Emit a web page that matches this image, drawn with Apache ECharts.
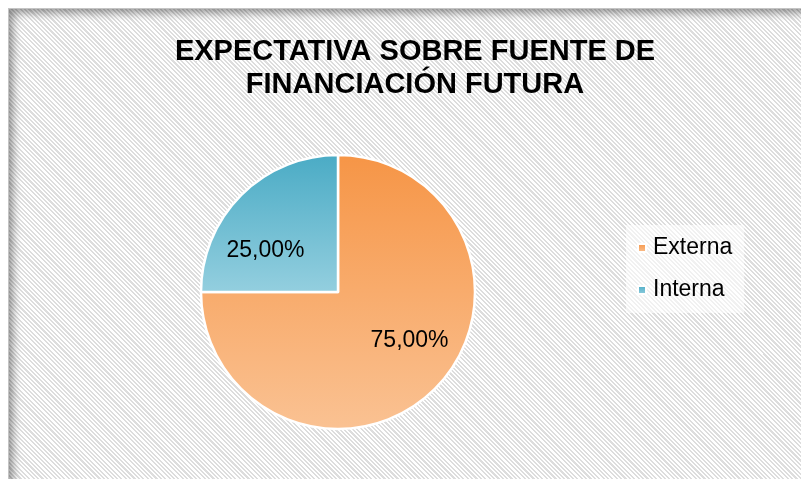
<!DOCTYPE html>
<html>
<head>
<meta charset="utf-8">
<script src="https://cdn.jsdelivr.net/npm/echarts@6/dist/echarts.min.js"></script>
<style>
  html, body {
    margin: 0;
    padding: 0;
    background: #fff;
  }
  .wrap {
    position: relative;
    width: 801px;
    height: 479px;
    overflow: hidden;
  }
  .frame {
    position: absolute;
    left: 8px;
    top: 8px;
    width: 800px;
    height: 470px;
    border: 1px solid #c4c4c4;
    background: repeating-linear-gradient(45deg, #ffffff 0, #ffffff 1.55px, #dddddd 1.55px, #dddddd 3.1px);
    box-shadow: inset 7px 7px 9px -3px rgba(0, 0, 0, 0.4);
  }
  #chart {
    position: absolute;
    left: 0;
    top: 0;
    width: 801px;
    height: 479px;
  }
</style>
</head>
<body>
<div class="wrap">
  <div class="frame"></div>
  <div id="chart"></div>
</div>
<script>
const titleLines = ['EXPECTATIVA SOBRE FUENTE DE', 'FINANCIACIÓN FUTURA']
const categories = ['Externa', 'Interna']
const values = [75, 25]

const colors = [
  ['#f69546', '#fac293'],
  ['#4aabc5', '#94cfdf']
]
const labelOffsets = [[21, -2], [-22, 9]]

const chart = echarts.init(document.getElementById('chart'))

const option = {
  backgroundColor: 'transparent',
  textStyle: {
    fontFamily: 'Liberation Sans, Arial, sans-serif'
  },
  title: {
    text: titleLines.join('\n'),
    left: 410,
    top: 30,
    textAlign: 'center',
    textStyle: {
      fontSize: 29,
      fontWeight: 'bold',
      color: '#000',
      lineHeight: 33,
      fontFamily: 'Liberation Sans, Arial, sans-serif'
    }
  },
  legend: {
    orient: 'vertical',
    left: 626,
    top: 225,
    padding: [11, 12, 11, 11],
    backgroundColor: 'rgba(255,255,255,0.6)',
    icon: 'rect',
    itemWidth: 8,
    itemHeight: 8,
    itemGap: 18,
    textStyle: {
      fontSize: 23,
      lineHeight: 24,
      color: '#000',
      padding: [0, 0, 0, 2]
    },
    data: categories
  },
  series: [
    {
      type: 'pie',
      center: [338, 292],
      radius: 137,
      startAngle: 90,
      clockwise: true,
      silent: true,
      itemStyle: {
        borderColor: '#fff',
        borderWidth: 2.5
      },
      label: {
        show: true,
        position: 'inside',
        fontSize: 23,
        color: '#000',
        formatter: p => p.value.toFixed(2).replace('.', ',') + '%'
      },
      labelLine: { show: false },
      data: categories.map((name, i) => ({
        name,
        value: values[i],
        itemStyle: {
          color: new echarts.graphic.LinearGradient(0, 0, 0, 1, [
            { offset: 0, color: colors[i][0] },
            { offset: 1, color: colors[i][1] }
          ])
        },
        label: { offset: labelOffsets[i] }
      }))
    }
  ]
}

chart.setOption(option)
</script>
</body>
</html>
